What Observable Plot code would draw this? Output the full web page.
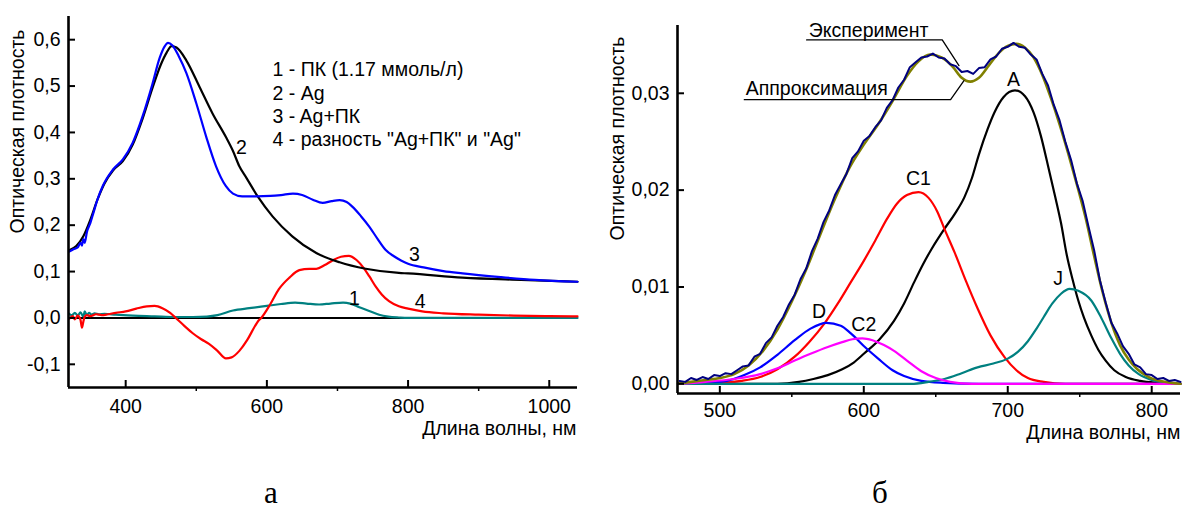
<!DOCTYPE html>
<html>
<head>
<meta charset="utf-8">
<script src="https://cdn.jsdelivr.net/npm/d3@7"></script>
<script src="https://cdn.jsdelivr.net/npm/@observablehq/plot@0.6"></script>
<style>
  body { margin: 0; background: #fff; }
  #fig { position: relative; width: 1182px; height: 509px; background: #fff; }
  #panelA { position: absolute; left: 0; top: 0; width: 590px; }
  #panelB { position: absolute; left: 590px; top: 0; width: 592px; }
  .cap { position: absolute; top: 478px; width: 60px; margin-left: -30px; text-align: center;
         font-family: "Liberation Serif", "Times New Roman", serif; font-size: 31px; line-height: 30px; color: #000; }
</style>
</head>
<body>
<div id="fig">
  <div id="panelA"></div>
  <div id="panelB"></div>
  <div class="cap" id="capA" style="left:271px"></div>
  <div class="cap" id="capB" style="left:880px"></div>
</div>
<script>
// ---------- Panel "а": absorption spectra, [wavelength nm, optical density] ----------
const pkSpectrum = [ // 1 - ПК
  [320,0.009],[324,0.006],[328,0.011],[332,0.005],[336,0.012],[340,0.003],[342,0.014],[345,0.006],
  [348,0.011],[352,0.007],[356,0.010],[362,0.008],[370,0.009],[386,0.007],[410,0.005],[441,0.0035],
  [470,0.002],[495,0.002],[515,0.003],[530,0.006],[552,0.016],[575,0.021],[600,0.026],[620,0.030],
  [640,0.033],[656,0.031],[674,0.029],[690,0.031],[708,0.033],[718,0.031],[731,0.023],[745,0.015],
  [759,0.007],[772,0.003],[787,0.001],[800,0.0],[1040,0.0]
];
const agSpectrum = [ // 2 - Ag
  [320,0.146],[330,0.155],[340,0.176],[350,0.212],[360,0.255],[370,0.290],[382,0.318],[396,0.338],
  [410,0.374],[424,0.430],[438,0.496],[450,0.547],[458,0.572],[465,0.586],[472,0.583],[486,0.555],
  [505,0.497],[523,0.441],[542,0.390],[552,0.360],[561,0.327],[571,0.302],[587,0.262],[608,0.219],
  [636,0.176],[670,0.140],[703,0.120],[740,0.106],[787,0.097],[800,0.096],[877,0.087],[960,0.082],
  [1040,0.078]
];
const agPkSpectrum = [ // 3 - Ag+ПК
  [320,0.143],[326,0.148],[332,0.152],[336,0.162],[338,0.156],[340,0.170],[342,0.162],[345,0.185],
  [350,0.205],[354,0.225],[360,0.255],[368,0.286],[382,0.320],[396,0.342],[410,0.378],[424,0.435],
  [438,0.505],[448,0.560],[455,0.585],[460,0.593],[466,0.588],[475,0.565],[486,0.528],[500,0.463],
  [514,0.391],[528,0.327],[542,0.284],[552,0.268],[565,0.262],[585,0.262],[605,0.263],[620,0.265],
  [637,0.268],[650,0.265],[665,0.255],[679,0.248],[692,0.252],[703,0.254],[713,0.250],[721,0.240],
  [733,0.220],[745,0.197],[757,0.170],[768,0.147],[780,0.133],[790,0.124],[800,0.117],[822,0.109],
  [850,0.101],[877,0.096],[931,0.088],[980,0.082],[1040,0.078]
];
const diffSpectrum = [ // 4 - разность
  [320,-0.002],[325,0.004],[328,-0.003],[332,0.005],[336,-0.004],[338,-0.021],[340,-0.008],[342,0.003],
  [345,0.006],[350,0.004],[358,0.008],[366,0.006],[375,0.008],[386,0.011],[400,0.014],[415,0.020],
  [430,0.025],[441,0.026],[452,0.021],[463,0.011],[471,0.000],[483,-0.017],[495,-0.033],[507,-0.046],
  [518,-0.056],[530,-0.071],[542,-0.087],[550,-0.085],[561,-0.071],[572,-0.048],[583,-0.018],[588,-0.006],
  [592,0.000],[605,0.030],[617,0.062],[632,0.087],[646,0.103],[660,0.106],[670,0.106],[682,0.114],
  [693,0.124],[705,0.132],[716,0.134],[727,0.125],[737,0.108],[745,0.090],[754,0.068],[763,0.050],
  [773,0.036],[787,0.025],[800,0.020],[820,0.014],[850,0.010],[900,0.007],[950,0.005],[1000,0.004],
  [1040,0.0035]
];
const xTicksA = [400, 600, 800, 1000];
const xMinorA = [500, 700, 900];
const yTicksA = [-0.1, 0, 0.1, 0.2, 0.3, 0.4, 0.5, 0.6];
const yTickLabelsA = ["-0,1", "0,0", "0,1", "0,2", "0,3", "0,4", "0,5", "0,6"];
const legendA = [
  "1 - ПК (1.17 ммоль/л)",
  "2 - Ag",
  "3 - Ag+ПК",
  "4 - разность \"Ag+ПК\" и \"Ag\""
];
const curveLabelsA = [
  {text: "1", nm: 724, od: 0.041},
  {text: "2", nm: 564, od: 0.366},
  {text: "3", nm: 809, od: 0.136},
  {text: "4", nm: 817, od: 0.035}
];

// ---------- Panel "б": decomposition of the difference spectrum ----------
const experiment = [
  [472,0.0003],[476,0.0002],[480,0.0006],[484,0.0004],[488,0.0007],[492,0.0005],[496,0.0009],[500,0.0008],
  [504,0.0011],[508,0.0010],[512,0.0014],[516,0.0018],[520,0.0019],[524,0.0028],[528,0.0031],[532,0.0042],
  [536,0.0048],[540,0.0060],[544,0.0069],[548,0.0082],[552,0.0092],[556,0.0108],[560,0.0119],[564,0.0137],
  [568,0.0150],[572,0.0167],[576,0.0179],[580,0.0195],[584,0.0206],[588,0.0217],[592,0.0233],[596,0.0240],
  [600,0.0251],[604,0.0256],[608,0.0265],[612,0.0272],[616,0.0285],[620,0.0293],[624,0.0306],[628,0.0314],
  [632,0.0327],[636,0.0332],[640,0.0337],[644,0.0338],[648,0.0341],[652,0.0337],[656,0.0336],[660,0.0330],
  [664,0.0328],[668,0.0322],[672,0.0323],[676,0.0320],[680,0.0326],[684,0.0327],[688,0.0335],[692,0.0338],
  [696,0.0346],[700,0.0348],[704,0.0352],[708,0.0348],[712,0.0347],[716,0.0340],[720,0.0335],[724,0.0320],
  [728,0.0308],[732,0.0288],[736,0.0272],[740,0.0250],[744,0.0231],[748,0.0207],[752,0.0189],[756,0.0163],
  [760,0.0138],[764,0.0107],[768,0.0084],[772,0.0063],[776,0.0052],[780,0.0039],[784,0.0031],[788,0.0020],
  [792,0.0017],[796,0.0010],[800,0.0009],[804,0.0005],[808,0.0006],[812,0.0003],[816,0.0004],[820,0.0002]
];
const approximation = [
  [471,0.0000],[480,0.0002],[490,0.0004],[500,0.0006],[510,0.0010],[520,0.0019],[530,0.0034],[540,0.0056],
  [550,0.0085],[560,0.0118],[570,0.0155],[580,0.0191],[590,0.0223],[600,0.0247],[610,0.0268],[620,0.0292],
  [630,0.0318],[638,0.0333],[646,0.0340],[654,0.0337],[662,0.0327],[668,0.0316],[674,0.0312],[680,0.0316],
  [687,0.0329],[694,0.0342],[700,0.0349],[706,0.0351],[712,0.0347],[718,0.0337],[724,0.0319],[730,0.0295],
  [736,0.0268],[742,0.0238],[748,0.0206],[754,0.0172],[760,0.0132],[766,0.0094],[772,0.0063],[778,0.0040],
  [784,0.0025],[790,0.0015],[798,0.0007],[806,0.0003],[814,0.0001],[820,0.0000]
];
const bandD = [
  [471,0.0000],[490,0.0001],[505,0.0003],[517,0.0009],[528,0.0017],[540,0.0030],[552,0.0045],[563,0.0057],
  [574,0.0063],[584,0.0060],[591,0.0052],[600,0.0039],[610,0.0026],[620,0.0014],[628,0.0008],[640,0.0003],
  [655,0.0001],[680,0.0000],[820,0.0000]
];
const bandC2 = [
  [471,0.0000],[490,0.0002],[510,0.0005],[528,0.0010],[540,0.0016],[552,0.0024],[563,0.0031],[575,0.0038],
  [585,0.0043],[592,0.0046],[599,0.0047],[606,0.0045],[614,0.0040],[621,0.0034],[630,0.0024],[640,0.0013],
  [650,0.0006],[660,0.0002],[675,0.0000],[820,0.0000]
];
const bandC1 = [
  [471,0.0000],[500,0.0001],[515,0.0003],[528,0.0007],[540,0.0015],[552,0.0028],[562,0.0043],[573,0.0063],
  [582,0.0083],[591,0.0105],[600,0.0127],[608,0.0148],[616,0.0170],[623,0.0186],[630,0.0195],[638,0.0198],
  [645,0.0192],[651,0.0178],[656,0.0160],[663,0.0136],[671,0.0106],[679,0.0078],[688,0.0050],[698,0.0027],
  [706,0.0014],[714,0.0006],[725,0.0002],[740,0.0000],[820,0.0000]
];
const bandA = [
  [471,0.0000],[540,0.0000],[555,0.0002],[565,0.0005],[575,0.0009],[585,0.0015],[593,0.0022],[600,0.0031],
  [611,0.0046],[621,0.0065],[628,0.0083],[635,0.0105],[641,0.0123],[647,0.0139],[656,0.0160],[663,0.0175],
  [670,0.0193],[675,0.0212],[680,0.0237],[686,0.0263],[691,0.0281],[697,0.0296],[705,0.0303],[712,0.0297],
  [718,0.0280],[723,0.0256],[728,0.0225],[733,0.0193],[737,0.0166],[741,0.0133],[745,0.0108],[749,0.0086],
  [753,0.0068],[758,0.0050],[763,0.0035],[768,0.0024],[774,0.0014],[782,0.0007],[792,0.0003],[805,0.0001],
  [820,0.0000]
];
const bandJ = [
  [471,0.0000],[600,0.0000],[633,0.0000],[645,0.0002],[656,0.0005],[668,0.0011],[679,0.0017],[690,0.0021],
  [700,0.0026],[707,0.0033],[714,0.0044],[720,0.0057],[725,0.0069],[731,0.0083],[737,0.0093],[743,0.0098],
  [749,0.0096],[758,0.0086],[765,0.0068],[772,0.0047],[778,0.0031],[784,0.0019],[791,0.0010],[800,0.0004],
  [810,0.0001],[820,0.0000]
];
const xTicksB = [500, 600, 700, 800];
const xMinorB = [550, 650, 750];
const yTicksB = [0, 0.01, 0.02, 0.03];
const yTickLabelsB = ["0,00", "0,01", "0,02", "0,03"];
const bandLabels = [
  {text: "D", nm: 569, od: 0.00747},
  {text: "C2", nm: 600, od: 0.00609},
  {text: "C1", nm: 638, od: 0.02114},
  {text: "A", nm: 704, od: 0.03136},
  {text: "J", nm: 735, od: 0.01081}
];
const calloutExperiment = [[560.3, 0.03551], [654.5, 0.03551], [666.1, 0.03285]];
const calloutApprox = [[517, 0.02934], [660.3, 0.02934], [669.6, 0.0313]];
const calloutTexts = [
  {text: "Эксперимент", nm: 561.8, od: 0.03647},
  {text: "Аппроксимация", nm: 518, od: 0.03045}
];

const xTitle = "Длина волны, нм";
const yTitle = "Оптическая плотность";
const panelCaptions = ["а", "б"];

const font = "'Liberation Sans', Arial, Helvetica, sans-serif";

// Builds one panel: left/bottom axes with inward major ticks and outward minor x ticks.
function panel(cfg) {
  const {width, height, mt, mr, mb, ml, xDomain, yDomain} = cfg;
  const kx = (width - ml - mr) / (xDomain[1] - xDomain[0]);
  const ky = (height - mt - mb) / (yDomain[1] - yDomain[0]);
  const x0 = xDomain[0], y0 = yDomain[0];
  const marks = [
    ...(cfg.before || []),
    ...cfg.series.map(s => Plot.line(s.data, {
      x: d => d[0], y: d => d[1], stroke: s.color, strokeWidth: s.width || 2.2,
      curve: s.curve || "monotone-x", strokeLinejoin: "round"
    })),
    Plot.ruleX([x0], {stroke: "black", strokeWidth: 2.6}),
    Plot.ruleY([y0], {stroke: "black", strokeWidth: 2.6}),
    Plot.ruleX(cfg.xTicks, {x: d => d, y1: y0, y2: y0 + 7 / ky, stroke: "black", strokeWidth: 2}),
    Plot.ruleX(cfg.xMinor, {x: d => d, y1: y0, y2: y0 - 4 / ky, stroke: "black", strokeWidth: 1.5}),
    Plot.ruleY(cfg.yTicks, {y: d => d, x1: x0, x2: x0 + 7 / kx, stroke: "black", strokeWidth: 2}),
    Plot.text(cfg.xTicks, {x: d => d, frameAnchor: "bottom", lineAnchor: "middle", textAnchor: "middle",
      dy: cfg.xLabelDy, text: d => String(d), fill: "black"}),
    Plot.text(cfg.yTicks, {y: d => d, frameAnchor: "left", lineAnchor: "middle", dx: -8, textAnchor: "end",
      text: (d, i) => cfg.yLabels[i], fill: "black"}),
    Plot.text([xTitle], {frameAnchor: "bottom-right", textAnchor: "end", lineAnchor: "middle",
      dx: cfg.xTitleDx, dy: cfg.xTitleDy, fill: "black"}),
    Plot.text([yTitle], {frameAnchor: "top-left", textAnchor: "middle", lineAnchor: "middle", rotate: -90,
      dx: cfg.yTitleDx, dy: cfg.yTitleDy, fill: "black"}),
    ...(cfg.after || [])
  ];
  return Plot.plot({
    width, height, marginTop: mt, marginRight: mr, marginBottom: mb, marginLeft: ml,
    x: {domain: xDomain, axis: null},
    y: {domain: yDomain, axis: null},
    style: {fontFamily: font, fontSize: "19.5px", color: "black", background: "transparent", overflow: "visible"},
    marks
  });
}

const plotA = panel({
  width: 590, height: 440, mt: 16, mr: 13, mb: 53, ml: 68,
  xDomain: [319, 1040], yDomain: [-0.15, 0.65],
  xTicks: xTicksA, xMinor: xMinorA, yTicks: yTicksA, yLabels: yTickLabelsA,
  xLabelDy: 19, xTitleDx: -1, xTitleDy: 41.5, yTitleDx: -50.5, yTitleDy: 115,
  before: [Plot.ruleY([0], {stroke: "black", strokeWidth: 2})],
  series: [
    {data: pkSpectrum, color: "#008080"},
    {data: diffSpectrum, color: "#ff0000"},
    {data: agSpectrum, color: "#000000"},
    {data: agPkSpectrum, color: "#0000ff"}
  ],
  after: [
    Plot.text(curveLabelsA, {x: "nm", y: "od", text: "text", fill: "black"}),
    Plot.text([legendA.join("\n")], {frameAnchor: "top-left", dx: 204, dy: 43, textAnchor: "start",
      lineAnchor: "top", lineHeight: 1.2, fill: "black"})
  ]
});

const plotB = panel({
  width: 592, height: 440, mt: 25, mr: 2, mb: 47, ml: 87,
  xDomain: [470.6, 820], yDomain: [-0.001, 0.037],
  xTicks: xTicksB, xMinor: xMinorB, yTicks: yTicksB, yLabels: yTickLabelsB,
  xLabelDy: 17, xTitleDx: 0, xTitleDy: 39, yTitleDx: -59.5, yTitleDy: 113,
  series: [
    {data: bandA, color: "#000000"},
    {data: bandC1, color: "#ff0000"},
    {data: bandD, color: "#0000ff"},
    {data: bandJ, color: "#008080"},
    {data: bandC2, color: "#ff00ff"},
    {data: approximation, color: "#808000", width: 2.6},
    {data: experiment, color: "#000080", curve: "linear", width: 2}
  ],
  after: [
    Plot.line(calloutExperiment, {x: d => d[0], y: d => d[1], stroke: "black", strokeWidth: 1.3}),
    Plot.line(calloutApprox, {x: d => d[0], y: d => d[1], stroke: "black", strokeWidth: 1.3}),
    Plot.text(calloutTexts, {x: "nm", y: "od", text: "text", textAnchor: "start", fill: "black"}),
    Plot.text(bandLabels, {x: "nm", y: "od", text: "text", fill: "black"})
  ]
});

document.getElementById("panelA").append(plotA);
document.getElementById("panelB").append(plotB);
document.getElementById("capA").textContent = panelCaptions[0];
document.getElementById("capB").textContent = panelCaptions[1];
</script>
</body>
</html>
